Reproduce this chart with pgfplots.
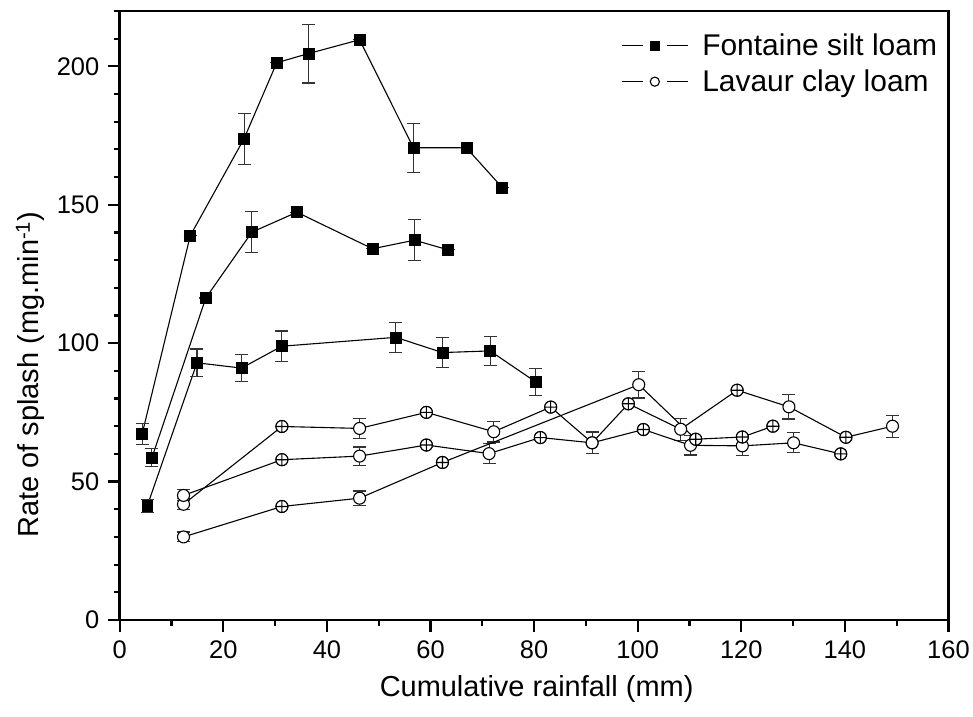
\documentclass[border=0pt]{standalone}
\usepackage{fontspec}
\setmainfont{Liberation Sans}
\usepackage{pgfplots}
\usepackage{pgfplotstable}
\pgfplotsset{compat=1.18}

% Fontaine silt loam: three rainfall runs (x = cumulative rainfall, y = splash rate, e = error)
\pgfplotstableread{
x    y     e
4.3  67.1  3.8
13.6 138.8 0
24.0 173.9 9.2
30.3 201.3 0
36.4 204.6 10.6
46.3 209.6 0
56.7 170.6 8.8
66.9 170.6 0
73.8 156.3 0
}\fontA
\pgfplotstableread{
x    y     e
6.2  58.6  3.3
16.6 116.3 0
25.5 140.1 7.5
34.2 147.3 0
48.8 134.1 0
56.9 137.2 7.5
63.4 133.7 0
}\fontB
\pgfplotstableread{
x    y     e
5.3  41.2  2.3
14.9 92.9  5.0
23.5 91.0  5.0
31.3 98.9  5.5
53.3 102.1 5.5
62.3 96.6  5.4
71.5 97.2  5.3
80.3 86.0  4.8
}\fontC
% Lavaur clay loam: three rainfall runs (e = 0 where the bar stays inside the marker)
\pgfplotstableread{
x     y    e
12.3  41.8 2.0
31.3  69.9 0
46.3  69.2 3.6
59.2  75.0 0
72.2  68.0 3.7
83.2  76.9 0
91.2  64.0 3.9
98.2  78.1 0
108.3 68.9 3.9
119.2 83.0 0
129.2 77.0 4.4
140.2 66.0 0
149.2 70.0 4.0
}\lavA
\pgfplotstableread{
x     y    e
12.3  45.0 2.0
31.3  57.9 0
46.3  59.2 3.3
59.2  63.2 0
71.3  60.1 3.6
81.2  65.9 0
91.2  64.0 3.9
101.1 68.8 0
110.2 63.1 3.5
120.2 62.9 3.6
130.1 64.0 3.6
139.2 60.0 0
}\lavB
\pgfplotstableread{
x     y    e
12.3  30.0 1.8
31.3  41.0 0
46.3  44.0 2.6
62.3  56.9 0
100.2 85.0 4.8
111.2 65.3 0
120.2 66.1 0
126.1 70.0 0
}\lavC
% points whose small error bar sits inside the circle
\pgfplotstableread{
x     y
31.3  69.9
59.2  75.0
83.2  76.9
98.2  78.1
119.2 83.0
140.2 66.0
31.3  57.9
59.2  63.2
81.2  65.9
101.1 68.8
139.2 60.0
31.3  41.0
62.3  56.9
111.2 65.3
120.2 66.1
126.1 70.0
}\lavSmall

\pgfplotsset{
  fontaine/.style={black, line width=1.1pt, mark=square*, mark size=5.5pt,
    mark options={solid, fill=black, line width=0.5pt}},
  lavaur/.style={black, line width=1.1pt, mark=*, mark size=6pt,
    mark options={solid, fill=white, draw=black, line width=1.1pt}},
  errs/.style={error bars/.cd, y dir=both, y explicit,
    error bar style={line width=1.1pt, black!80},
    error mark options={rotate=90, mark size=6.5pt, line width=1.1pt, black!80},
    /pgfplots/.cd},
}

\begin{document}
\begin{tikzpicture}
\begin{axis}[
  scale only axis, width=830pt, height=610pt,
  xmin=0, xmax=160, ymin=0, ymax=220,
  axis line style={line width=2.8pt},
  xtick={0,20,...,160}, minor xtick={10,30,...,150},
  ytick={0,50,...,200}, minor ytick={10,20,...,220},
  xtick pos=bottom, ytick pos=left,
  tick align=outside,
  major tick length=12pt, minor tick length=6pt,
  every tick/.style={black, line width=2.2pt},
  tick label style={font=\fontsize{25.5}{25.5}\selectfont},
  xticklabel style={yshift=-5pt},
  yticklabel style={xshift=-5pt},
  /pgf/number format/assume math mode=true,
  xlabel={Cumulative rainfall (mm)},
  ylabel={Rate of splash (mg.min\textsuperscript{-1})},
  label style={font=\fontsize{29}{29}\selectfont},
  xlabel style={at={(axis description cs:0.503,-0.113)}, anchor=center},
  ylabel style={at={(axis description cs:-0.108,0.403)}, anchor=center},
  legend style={draw=none, fill=none, at={(axis description cs:0.605,0.966)},
    anchor=north west, font=\fontsize{30}{30}\selectfont, inner sep=0pt,
    row sep=9pt, /tikz/every odd column/.append style={column sep=12pt}},
  legend cell align=left,
  legend image code/.code={
    \draw[#1] (0pt,0pt) -- (21pt,0pt);
    \draw[#1] (45pt,0pt) -- (66pt,0pt);
    \draw[#1, mark size=4.6pt] plot coordinates {(33pt,0pt)};
  },
  clip=false,
]
\addplot[fontaine, errs] table[x=x, y=y, y error=e] {\fontA};
\addlegendentry{Fontaine silt loam}
\addplot[forget plot, fontaine, errs] table[x=x, y=y, y error=e] {\fontB};
\addplot[forget plot, fontaine, errs] table[x=x, y=y, y error=e] {\fontC};
\addplot[lavaur, errs] table[x=x, y=y, y error=e] {\lavA};
\addlegendentry{Lavaur clay loam}
\addplot[forget plot, lavaur, errs] table[x=x, y=y, y error=e] {\lavB};
\addplot[forget plot, lavaur, errs] table[x=x, y=y, y error=e] {\lavC};
\addplot[only marks, mark=oplus*, mark size=6pt, forget plot,
  mark options={fill=white, draw=black, line width=1.1pt}] table[x=x, y=y] {\lavSmall};
\end{axis}
\path ([xshift=-120pt,yshift=-97pt]current axis.south west)
  rectangle ([xshift=23pt,yshift=11pt]current axis.north east);
\end{tikzpicture}
\end{document}
